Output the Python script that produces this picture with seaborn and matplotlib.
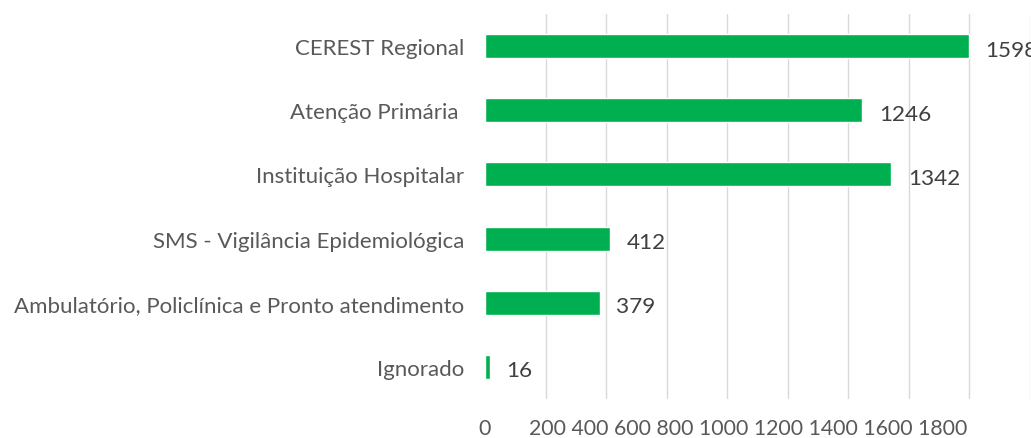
import matplotlib
matplotlib.use("Agg")
import matplotlib.pyplot as plt
import seaborn as sns
import pandas as pd

categories = ["CEREST Regional", "Atenção Primária ", "Instituição Hospitalar",
              "SMS - Vigilância Epidemiológica",
              "Ambulatório, Policlínica e Pronto atendimento", "Ignorado"]
values = [1598, 1246, 1342, 412, 379, 16]
tick_values = [0, 200, 400, 600, 800, 1000, 1200, 1400, 1600, 1800]
tick_labels = [str(v) for v in tick_values]

df = pd.DataFrame({"cat": categories, "val": values})

sns.set_theme(style="white")
plt.rcParams["font.family"] = ["Lato", "DejaVu Sans"]

fig = plt.figure(figsize=(10.31, 4.39), dpi=100)
ax = fig.add_axes([485 / 1031, 1 - 400 / 439, (1030 - 485) / 1031, 385 / 439])

sns.barplot(data=df, x="val", y="cat", orient="h", color="#00B050",
            saturation=1, width=0.375, ax=ax)

ax.set_xlim(0, 1800)
ax.set_ylim(5.5, -0.5)
ax.set_xticks(tick_values)
ax.set_xticklabels([""] * len(tick_values))
ax.tick_params(axis="x", length=0)
ax.tick_params(axis="y", length=0, pad=15, labelsize=16, labelcolor="#595959")
ax.grid(axis="x", color="#D9D9D9", linewidth=1.0)
ax.get_xgridlines()[0].set_visible(False)
ax.set_axisbelow(True)
for s in ax.spines.values():
    s.set_visible(False)
ax.set_xlabel("")
ax.set_ylabel("")

for i, v in enumerate(values):
    ax.annotate(str(v), (v, i), xytext=(12, -2.5), textcoords="offset points",
                ha="left", va="center", fontsize=16.2, color="#404040",
                annotation_clip=False)

# x tick labels as rendered in the reference (tightly packed row)
xt = ax.get_xaxis_transform()
ax.text(0, -0.075, tick_labels[0], transform=xt, ha="center", va="center",
        fontsize=15.5, color="#595959")
ax.annotate(" ".join(tick_labels[1:]), (0, -0.075), xycoords=xt,
            xytext=(32, 0), textcoords="offset points",
            ha="left", va="center", fontsize=15.3, color="#595959",
            annotation_clip=False)

fig.savefig("out.png", dpi=100)
